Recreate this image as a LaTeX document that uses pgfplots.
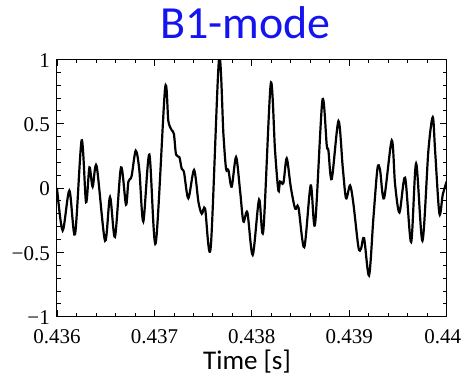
\documentclass[border=0pt]{standalone}
\usepackage{pgfplots}
\pgfplotsset{compat=1.18}
\usepackage{fontspec}
\setmainfont{Liberation Serif}
\newfontfamily\tickfont{Liberation Serif}
\newfontfamily\calfont{Carlito}
\definecolor{titleblue}{RGB}{20,20,240}
\pgfplotstableread{
t v
0.436000 0.00
0.436058 -0.33
0.436127 -0.02
0.436185 -0.36
0.436253 0.37
0.436298 -0.11
0.436333 0.16
0.436366 0.01
0.436407 0.17
0.436493 -0.41
0.436544 -0.07
0.436595 -0.38
0.436657 0.16
0.436708 -0.13
0.436733 0.05
0.436765 0.09
0.436808 0.29
0.436845 0.14
0.436886 -0.26
0.436948 0.26
0.437013 -0.43
0.437109 0.77
0.437143 0.52
0.437177 0.45
0.437200 0.42
0.437222 0.26
0.437256 0.24
0.437280 0.15
0.437304 0.12
0.437348 -0.08
0.437407 0.14
0.437452 -0.11
0.437486 -0.20
0.437520 -0.16
0.437578 -0.46
0.437663 1.00
0.437708 0.42
0.437735 0.15
0.437759 0.14
0.437793 0.01
0.437838 0.24
0.437879 -0.02
0.437913 -0.26
0.437954 -0.19
0.438009 -0.52
0.438074 -0.09
0.438118 -0.33
0.438194 0.81
0.438238 0.29
0.438272 -0.02
0.438290 0.05
0.438324 0.04
0.438358 0.23
0.438399 0.01
0.438444 -0.16
0.438478 -0.15
0.438538 -0.46
0.438604 0.02
0.438649 -0.28
0.438724 0.68
0.438769 0.33
0.438786 0.29
0.438820 0.07
0.438889 0.52
0.438933 0.16
0.438967 -0.08
0.439008 0.02
0.439042 -0.12
0.439094 -0.46
0.439121 -0.47
0.439152 -0.39
0.439203 -0.68
0.439248 -0.23
0.439289 0.15
0.439316 0.14
0.439357 -0.08
0.439436 0.37
0.439470 0.03
0.439515 -0.19
0.439573 0.08
0.439635 -0.42
0.439686 0.19
0.439751 -0.41
0.439812 0.29
0.439857 0.55
0.439881 0.29
0.439925 -0.20
0.439960 -0.05
0.440000 0.05
}\datatable
\newcommand{\tl}[1]{\mbox{\tickfont\fontsize{21}{24}\selectfont #1}}
\begin{document}
\begin{tikzpicture}
\begin{axis}[
  scale only axis,
  width=389.7pt, height=257.4pt,
  xmin=0.436, xmax=0.440, ymin=-1, ymax=1,
  xtick={0.436,0.437,0.438,0.439,0.440},
  xticklabels={\tl{0.436},\tl{0.437},\tl{0.438},\tl{0.439},\tl{\hspace*{-8pt}0.44}},
  ytick={-1,-0.5,0,0.5,1},
  yticklabels={\tl{−1},\tl{−0.5},\tl{0},\tl{0.5},\tl{1}},
  minor x tick num=4, minor y tick num=4,
  tick align=inside,
  major tick length=7pt, minor tick length=4pt,
  tick style={black, line width=0.8pt},
  axis line style={black, line width=1pt},
  xticklabel style={anchor=base, inner sep=0pt, yshift=-26.6pt},
  yticklabel style={anchor=east, inner sep=0pt, xshift=-7pt, yshift=-1pt},
  title={B1-mode},
  title style={font=\calfont\fontsize{46}{50}\selectfont, text=titleblue,
    at={(rel axis cs:0.4837,1)}, anchor=base, yshift=14.4pt, inner sep=0pt},
  xlabel={Time [s]},
  xlabel style={font=\calfont\fontsize{27}{30}\selectfont,
    at={(rel axis cs:0.4876,0)}, anchor=base, yshift=-53.3pt, inner sep=0pt},
]
\addplot[black, line width=2.2pt, smooth, tension=0.5] table[x=t, y=v] {\datatable};
\end{axis}
\pgfresetboundingbox
\path[use as bounding box] (-57pt,-62.3pt) rectangle (406pt,316.7pt);
\end{tikzpicture}
\end{document}
